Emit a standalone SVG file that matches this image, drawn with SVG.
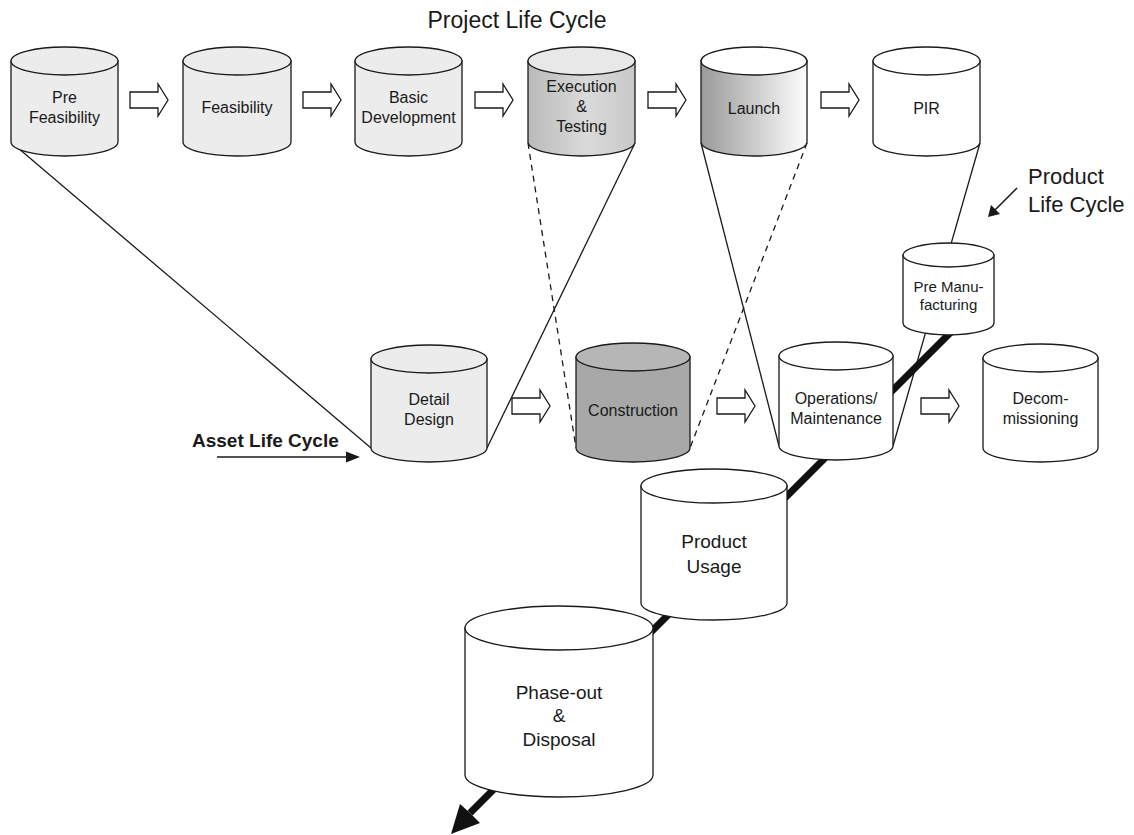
<svg xmlns="http://www.w3.org/2000/svg" width="1134" height="835" viewBox="0 0 1134 835">
<style>
.cyl{stroke:#1a1a1a;stroke-width:1.3}
.lg{fill:#ececec}
.wh{fill:#ffffff}
.dkb{fill:#a8a8a8}
.dkt{fill:#b6b6b6}
.exb{fill:url(#gExec)}
.ext{fill:#e8e8e8}
.lab{fill:url(#gLaunch)}
.lbl{font-family:"Liberation Sans",Arial,sans-serif;font-size:16px;text-anchor:middle;fill:#1a1a1a}
.big{font-size:19px}
.sm{font-size:15px}
.thin{stroke:#1a1a1a;stroke-width:1.3;fill:none}
.dash{stroke-dasharray:6 5}
.blk{fill:#ffffff;stroke:#1a1a1a;stroke-width:1.3}
</style>
<defs>
<linearGradient id="gExec" x1="0" y1="0" x2="1" y2="0">
<stop offset="0" stop-color="#bababa"/><stop offset="0.55" stop-color="#dadada"/><stop offset="1" stop-color="#c8c8c8"/>
</linearGradient>
<linearGradient id="gLaunch" x1="0" y1="0" x2="1" y2="0">
<stop offset="0" stop-color="#9a9a9a"/><stop offset="1" stop-color="#fdfdfd"/>
</linearGradient>
<path id="barrow" d="M0,-8 H28 V-16 L38,0 L28,16 V8 H0 Z"/>
</defs>

<g id="connectors">
<line class="thin" x1="11" y1="142" x2="371" y2="448"/>
<line class="thin" x1="635" y1="143" x2="487" y2="448"/>
<line class="thin dash" x1="528" y1="143" x2="576" y2="448"/>
<line class="thin dash" x1="807" y1="143" x2="690" y2="448"/>
<line class="thin" x1="701" y1="143" x2="779" y2="446"/>
<line class="thin" x1="980" y1="143" x2="893" y2="446"/>
<line x1="955" y1="328" x2="470" y2="813" stroke="#111" stroke-width="7"/>
<polygon points="451,834 460,804 470,813 480,823" fill="#111"/>
<line x1="1017" y1="188" x2="993" y2="212" stroke="#1a1a1a" stroke-width="1.6"/>
<polygon points="988,217 991,205 1000,214" fill="#1a1a1a"/>
<line x1="217" y1="457" x2="348" y2="457" stroke="#1a1a1a" stroke-width="1.6"/>
<polygon points="360,457 346,451.5 346,462.5" fill="#1a1a1a"/>
<use href="#barrow" class="blk" x="130" y="100"/>
<use href="#barrow" class="blk" x="303" y="100"/>
<use href="#barrow" class="blk" x="475" y="100"/>
<use href="#barrow" class="blk" x="648" y="100"/>
<use href="#barrow" class="blk" x="821" y="100"/>
<use href="#barrow" class="blk" x="512" y="406"/>
<use href="#barrow" class="blk" x="717" y="406"/>
<use href="#barrow" class="blk" x="921" y="406"/>
</g>

<text class="lbl" x="517" y="28" style="font-size:23px">Project Life Cycle</text>
<text class="lbl" x="1028" y="184" style="font-size:22px;text-anchor:start">Product</text>
<text class="lbl" x="1028" y="212" style="font-size:22px;text-anchor:start">Life Cycle</text>
<text class="lbl" x="192" y="447" style="font-size:19px;font-weight:bold;text-anchor:start">Asset Life Cycle</text>

<g id="n-prefeasibility">
<path class="cyl lg" d="M11,61 V142 A53.5,14 0 0 0 118,142 V61 Z"/>
<ellipse class="cyl lg" cx="64.5" cy="61" rx="53.5" ry="14"/>
<text class="lbl" x="64.5" y="103">Pre</text>
<text class="lbl" x="64.5" y="123">Feasibility</text>
</g>
<g id="n-feasibility">
<path class="cyl lg" d="M183,61 V142 A54,14 0 0 0 291,142 V61 Z"/>
<ellipse class="cyl lg" cx="237" cy="61" rx="54" ry="14"/>
<text class="lbl" x="237" y="113">Feasibility</text>
</g>
<g id="n-basic">
<path class="cyl lg" d="M355,61 V142 A53.5,14 0 0 0 462,142 V61 Z"/>
<ellipse class="cyl lg" cx="408.5" cy="61" rx="53.5" ry="14"/>
<text class="lbl" x="408.5" y="103">Basic</text>
<text class="lbl" x="408.5" y="123">Development</text>
</g>
<g id="n-execution">
<path class="cyl exb" d="M528,61 V142 A53.5,14 0 0 0 635,142 V61 Z"/>
<ellipse class="cyl ext" cx="581.5" cy="61" rx="53.5" ry="14"/>
<text class="lbl" x="581.5" y="92">Execution</text>
<text class="lbl" x="581.5" y="112">&amp;</text>
<text class="lbl" x="581.5" y="132">Testing</text>
</g>
<g id="n-launch">
<path class="cyl lab" d="M701,61 V142 A53,14 0 0 0 807,142 V61 Z"/>
<ellipse class="cyl wh" cx="754" cy="61" rx="53" ry="14"/>
<text class="lbl" x="754" y="114">Launch</text>
</g>
<g id="n-pir">
<path class="cyl wh" d="M873,61 V142 A53.5,14 0 0 0 980,142 V61 Z"/>
<ellipse class="cyl wh" cx="926.5" cy="61" rx="53.5" ry="14"/>
<text class="lbl" x="926.5" y="114">PIR</text>
</g>

<g id="n-detail">
<path class="cyl lg" d="M371,359 V448 A58,14 0 0 0 487,448 V359 Z"/>
<ellipse class="cyl lg" cx="429" cy="359" rx="58" ry="14"/>
<text class="lbl" x="429" y="405">Detail</text>
<text class="lbl" x="429" y="425">Design</text>
</g>
<g id="n-construction">
<path class="cyl dkb" d="M576,357 V448 A57,14 0 0 0 690,448 V357 Z"/>
<ellipse class="cyl dkt" cx="633" cy="357" rx="57" ry="14"/>
<text class="lbl" x="633" y="416">Construction</text>
</g>
<g id="n-operations">
<path class="cyl wh" d="M779,356 V446 A57,14 0 0 0 893,446 V356 Z"/>
<ellipse class="cyl wh" cx="836" cy="356" rx="57" ry="14"/>
<text class="lbl" x="836" y="404">Operations/</text>
<text class="lbl" x="836" y="424">Maintenance</text>
</g>
<g id="n-decommissioning">
<path class="cyl wh" d="M983,358 V448 A57.5,14 0 0 0 1098,448 V358 Z"/>
<ellipse class="cyl wh" cx="1040.5" cy="358" rx="57.5" ry="14"/>
<text class="lbl" x="1040.5" y="404">Decom-</text>
<text class="lbl" x="1040.5" y="424">missioning</text>
</g>
<g id="n-premanufacturing">
<path class="cyl wh" d="M903,255 V323 A45.5,12 0 0 0 994,323 V255 Z"/>
<ellipse class="cyl wh" cx="948.5" cy="255" rx="45.5" ry="12"/>
<text class="lbl sm" x="948.5" y="292">Pre Manu-</text>
<text class="lbl sm" x="948.5" y="310">facturing</text>
</g>
<g id="n-productusage">
<path class="cyl wh" d="M641,486 V603 A73,17 0 0 0 787,603 V486 Z"/>
<ellipse class="cyl wh" cx="714" cy="486" rx="73" ry="17"/>
<text class="lbl big" x="714" y="548">Product</text>
<text class="lbl big" x="714" y="573">Usage</text>
</g>
<g id="n-phaseout">
<path class="cyl wh" d="M465,628 V775 A94,22 0 0 0 653,775 V628 Z"/>
<ellipse class="cyl wh" cx="559" cy="628" rx="94" ry="22"/>
<text class="lbl big" x="559" y="699">Phase-out</text>
<text class="lbl big" x="559" y="722">&amp;</text>
<text class="lbl big" x="559" y="746">Disposal</text>
</g>
</svg>
